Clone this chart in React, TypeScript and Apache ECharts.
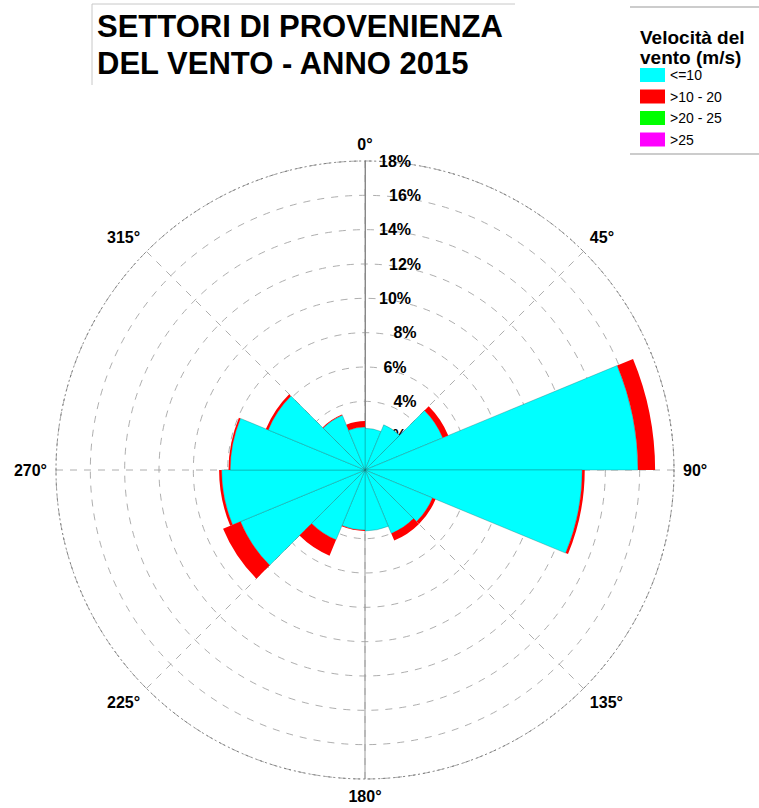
import React, { useEffect, useRef } from 'react';
import * as echarts from 'echarts';

// 16 direction sectors of 22.5° each (from 0° clockwise)
const sectors = [
  '0-22.5', '22.5-45', '45-67.5', '67.5-90',
  '90-112.5', '112.5-135', '135-157.5', '157.5-180',
  '180-202.5', '202.5-225', '225-247.5', '247.5-270',
  '270-292.5', '292.5-315', '315-337.5', '337.5-360',
];
const speedClasses = ['<=10', '>10 - 20', '>20 - 25', '>25'];
const colors = ['#00FFFF', '#FF0000', '#00FF00', '#FF00FF'];

// frequency (%) per sector and speed class
const upTo10 = [2.43, 2.85, 4.9, 15.9, 12.65, 4.25, 4.0, 3.55, 3.5, 4.4, 7.85, 8.35, 7.85, 6.1, 3.45, 2.5];
const from10to20 = [0, 0, 0.35, 1.0, 0.15, 0.2, 0.45, 0, 0.05, 1.0, 1.1, 0.15, 0.1, 0.15, 0.05, 0.35];
const from20to25 = [0, 0, 0, 0, 0, 0, 0, 0, 0, 0, 0, 0, 0, 0, 0, 0];
const over25 = [0, 0, 0, 0, 0, 0, 0, 0, 0, 0, 0, 0, 0, 0, 0, 0];

const radiusMax = 18;
const radiusStep = 2;
const angleStep = 45;

const FONT = 'Arial, "Liberation Sans", sans-serif';

export default function App() {
  const ref = useRef<HTMLDivElement>(null);
  useEffect(() => {
    if (!ref.current) return;
    const chart = echarts.init(ref.current, null, { renderer: 'svg' });
    const center = [365, 470];
    const radius = 309;
    const seriesData = [upTo10, from10to20, from20to25, over25];
    const option: any = {
      animation: false,
      backgroundColor: '#fff',
      title: [
        {
          text: 'SETTORI DI PROVENIENZA\nDEL VENTO - ANNO 2015',
          left: 97,
          top: 8,
          padding: 0,
          textStyle: { fontFamily: FONT, fontSize: 31, fontWeight: 'bold', lineHeight: 37, color: '#000' },
        },
        {
          text: 'Velocità del\nvento (m/s)',
          left: 640,
          top: 28,
          padding: 0,
          textStyle: { fontFamily: FONT, fontSize: 19, fontWeight: 'bold', lineHeight: 19.5, color: '#000' },
        },
      ],
      legend: {
        data: speedClasses,
        orient: 'vertical',
        left: 640,
        top: 68,
        padding: 0,
        itemWidth: 25,
        itemHeight: 14,
        itemGap: 7.5,
        icon: 'rect',
        itemStyle: { borderWidth: 0 },
        textStyle: { fontFamily: FONT, fontSize: 14, color: '#000' },
      },
      graphic: [
        { type: 'polyline', shape: { points: [[92, 85], [92, 4], [515, 4]] }, style: { stroke: '#c8c8c8', lineWidth: 1, fill: 'none' } },
        { type: 'line', shape: { x1: 630, y1: 7, x2: 759, y2: 7 }, style: { stroke: '#999', lineWidth: 1 } },
        { type: 'line', shape: { x1: 630, y1: 154, x2: 759, y2: 154 }, style: { stroke: '#999', lineWidth: 1 } },
      ],
      polar: [
        { center, radius },
        { center, radius },
        { center, radius },
      ],
      angleAxis: [
        {
          polarIndex: 0,
          type: 'category',
          data: sectors,
          startAngle: 90,
          clockwise: true,
          show: false,
        },
        {
          polarIndex: 1,
          type: 'value',
          min: 0,
          max: 360,
          interval: angleStep,
          startAngle: 90,
          clockwise: true,
          axisLine: { show: true, lineStyle: { color: '#777', width: 1, type: [2, 3] } },
          axisTick: { show: false },
          axisLabel: {
            margin: 9,
            fontFamily: FONT,
            fontSize: 16,
            fontWeight: 'bold',
            color: '#000',
            formatter: (v: number) => (v === 360 ? '' : v + '°'),
          },
          splitLine: { show: true, lineStyle: { color: '#999', width: 0.8, type: [7, 7] } },
        },
        {
          polarIndex: 2,
          type: 'value',
          min: 0,
          max: 360,
          interval: 180,
          startAngle: 90,
          clockwise: true,
          axisLine: { show: false },
          axisTick: { show: false },
          axisLabel: { show: false },
          splitLine: { show: true, lineStyle: { color: '#999', width: 1, type: 'solid' } },
        },
      ],
      radiusAxis: [
        {
          polarIndex: 0,
          type: 'value',
          min: 0,
          max: radiusMax,
          interval: radiusStep,
          axisLine: { show: true, lineStyle: { color: '#888', width: 1 } },
          axisTick: { show: false },
          axisLabel: {
            margin: -30,
            align: 'center',
            verticalAlign: 'middle',
            fontFamily: FONT,
            fontSize: 16,
            fontWeight: 'bold',
            color: '#000',
            formatter: (v: number) => {
              if (v === 0) return '';
              const k = v / radiusStep;
              return (k % 2 === 0 ? '{b|' : '{a|') + v + '%}';
            },
            rich: {
              a: { fontFamily: FONT, fontSize: 16, fontWeight: 'bold', color: '#000' },
              b: { fontFamily: FONT, fontSize: 16, fontWeight: 'bold', color: '#000', padding: [0, 0, 0, 20] },
            },
          },
          splitLine: { show: true, lineStyle: { color: '#999', width: 0.8, type: [7, 7] } },
        },
        { polarIndex: 1, type: 'value', min: 0, max: radiusMax, show: false },
        { polarIndex: 2, type: 'value', min: 0, max: radiusMax, show: false },
      ],
      series: speedClasses.map((name, i) => ({
        name,
        type: 'bar',
        coordinateSystem: 'polar',
        polarIndex: 0,
        stack: 'wind',
        barCategoryGap: '0%',
        data: seriesData[i],
        itemStyle: {
          color: colors[i],
          borderColor: i === 0 ? 'rgba(20,110,110,0.7)' : colors[i],
          borderWidth: i === 0 ? 0.5 : 0,
        },
      })),
    };
    chart.setOption(option);
    return () => chart.dispose();
  }, []);
  return (
    <div
      ref={ref}
      style={{ position: 'absolute', left: 0, top: 0, width: 759, height: 808 }}
    />
  );
}
